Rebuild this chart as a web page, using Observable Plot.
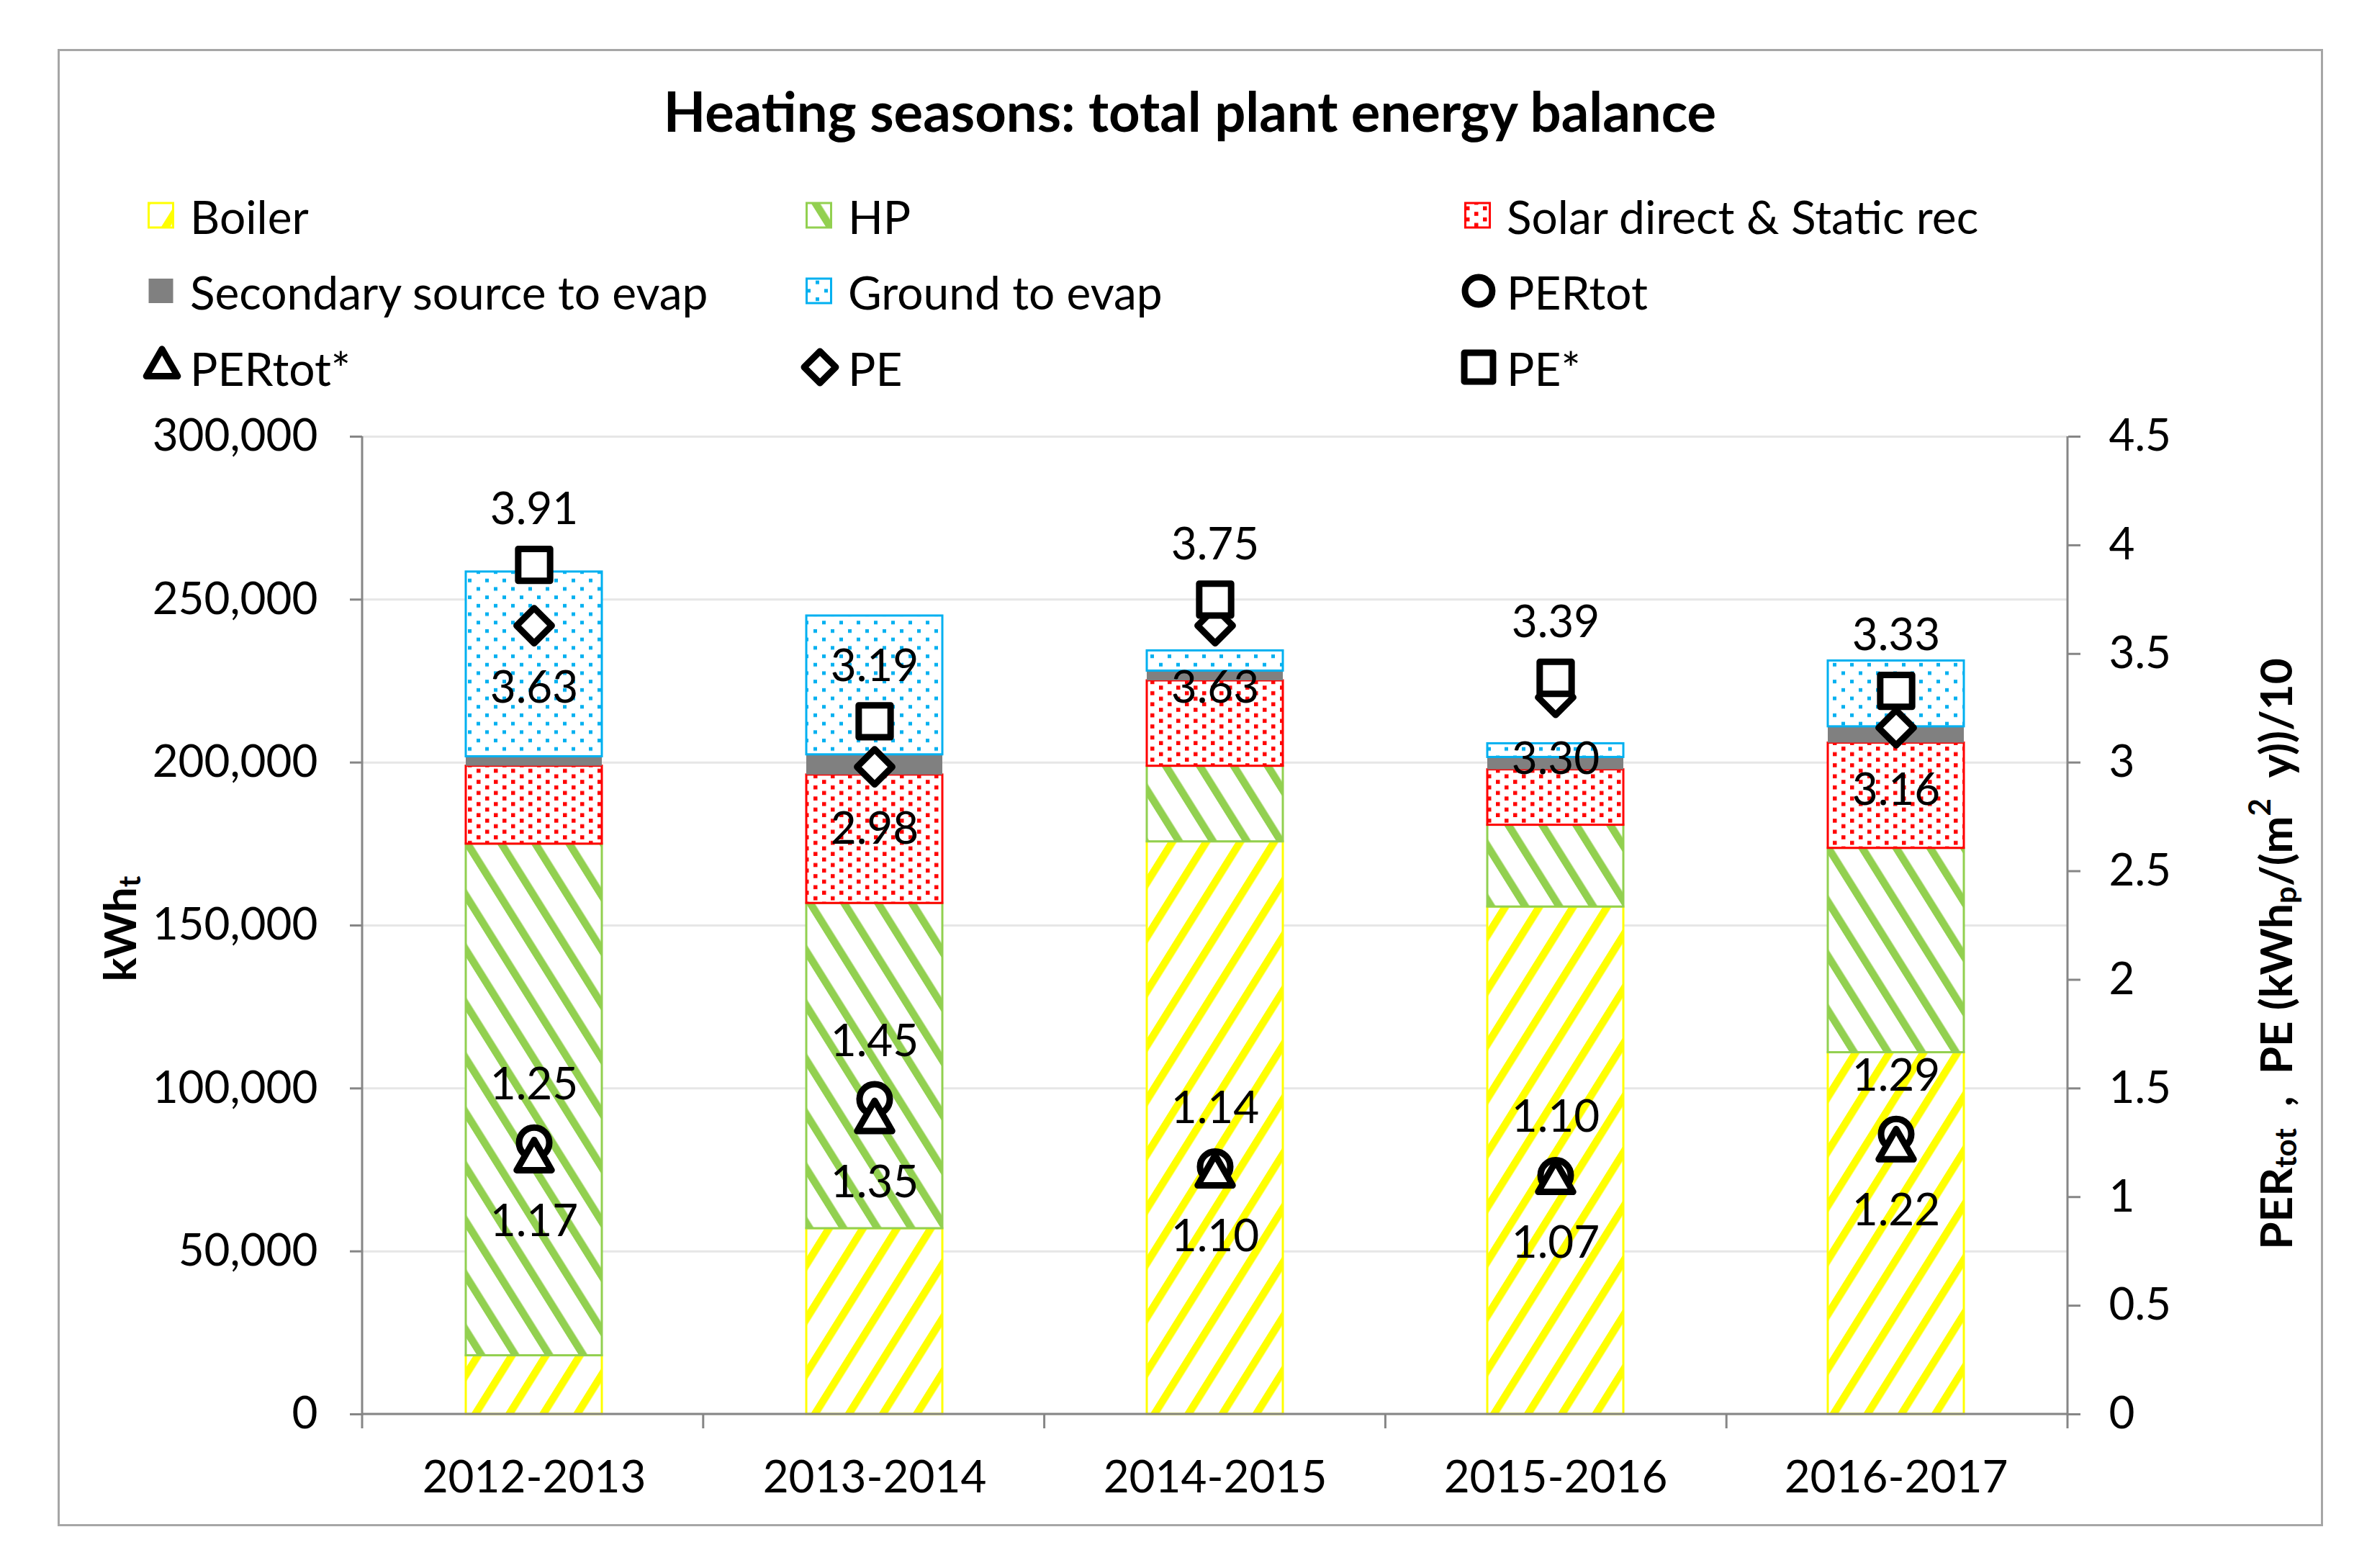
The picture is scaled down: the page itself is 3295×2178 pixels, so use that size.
<!DOCTYPE html>
<html>
<head>
<meta charset="utf-8">
<script src="https://cdn.jsdelivr.net/npm/d3@7"></script>
<script src="https://cdn.jsdelivr.net/npm/@observablehq/plot@0.6"></script>
<style>
html, body { margin: 0; padding: 0; background: #fff; }
#page { position: relative; width: 3295px; height: 2178px; font-family: Lato, "Open Sans", sans-serif; color: #000; overflow: hidden; background: #fff; }
#frame { position: absolute; left: 80px; top: 68px; width: 3141px; height: 2046px; border: 3px solid #a6a6a6; z-index: 5; pointer-events: none; }
#title { position: absolute; left: 0; width: 3306px; top: 112px; height: 84px; line-height: 84px; text-align: center; font-weight: bold; font-size: 76px; }
.leg { position: absolute; height: 80px; display: flex; align-items: center; font-size: 64px; white-space: nowrap; }
.leg svg { overflow: visible; flex: none; }
#chart { position: absolute; left: 0; top: 520px; }
</style>
</head>
<body>
<div id="page">
  <svg width="0" height="0" style="position:absolute">
    <defs>
      <pattern id="pBoiler" patternUnits="userSpaceOnUse" width="40" height="40" patternTransform="rotate(32)">
        <rect width="40" height="40" fill="#ffffff"/>
        <rect x="0" y="0" width="10.5" height="40" fill="#ffff00"/>
      </pattern>
      <pattern id="pHP" patternUnits="userSpaceOnUse" width="40" height="40" patternTransform="rotate(-32)">
        <rect width="40" height="40" fill="#ffffff"/>
        <rect x="0" y="0" width="10.5" height="40" fill="#92d050"/>
      </pattern>
      <pattern id="pSolar" patternUnits="userSpaceOnUse" width="24" height="15.4">
        <rect width="24" height="15.4" fill="#ffffff"/>
        <rect x="2" y="1.2" width="5.5" height="5.5" fill="#ff0000"/>
        <rect x="14" y="8.9" width="5.5" height="5.5" fill="#ff0000"/>
      </pattern>
      <pattern id="pGround" patternUnits="userSpaceOnUse" width="24" height="23.4">
        <rect width="24" height="23.4" fill="#ffffff"/>
        <rect x="2" y="3" width="5" height="5" fill="#00b0f0"/>
        <rect x="14" y="14.7" width="5" height="5" fill="#00b0f0"/>
      </pattern>
    </defs>
  </svg>
  <div id="frame"></div>
  <div id="title"></div>
  <div id="legend"></div>
  <div id="chart"></div>
</div>
<script>
// ---------- data ----------
const titleText = "Heating seasons: total plant energy balance";
const seasons = ["2012-2013", "2013-2014", "2014-2015", "2015-2016", "2016-2017"];
const components = ["Boiler", "HP", "Solar direct & Static rec", "Secondary source to evap", "Ground to evap"];
const boiler    = [18000, 57000, 175700, 155700, 111000];
const hp        = [157000, 99800, 23200, 25100, 62700];
const solar     = [23900, 39400, 26200, 17000, 32300];
const secondary = [2900, 6200, 3000, 3800, 5000];
const ground    = [56700, 42600, 6200, 4200, 20200];
const markerNames = ["PERtot", "PERtot*", "PE", "PE*"];
const perTot     = [1.25, 1.45, 1.14, 1.10, 1.29];
const perTotStar = [1.17, 1.35, 1.10, 1.07, 1.22];
const pe         = [3.63, 2.98, 3.63, 3.30, 3.16];
const peStar     = [3.91, 3.19, 3.75, 3.39, 3.33];
const leftTicks  = [0, 50000, 100000, 150000, 200000, 250000, 300000];
const rightTicks = [0, 0.5, 1, 1.5, 2, 2.5, 3, 3.5, 4, 4.5];
const legendOrder = ["Boiler", "HP", "Solar direct & Static rec",
                     "Secondary source to evap", "Ground to evap", "PERtot",
                     "PERtot*", "PE", "PE*"];

// ---------- styling ----------
const compFill = ["url(#pBoiler)", "url(#pHP)", "url(#pSolar)", "#808080", "url(#pGround)"];
const compStroke = ["#ffff00", "#92d050", "#ff0000", "none", "#00b0f0"];
const markerSymbol = ["circle", "triangle", "diamond2", "square"];
const markerR = [21, 18, 22, 25];
const labelDy = [-80, 86, 87, -76];
const FONT = "Lato, 'Open Sans', sans-serif";

const compValues = [boiler, hp, solar, secondary, ground];
const markerValues = [perTot, perTotStar, pe, peStar];
const yMax = 300000, rMax = 4.5, k = yMax / rMax;

const barData = [];
seasons.forEach((s, i) => components.forEach((c, j) => barData.push({
  season: s, comp: c, value: compValues[j][i], fill: compFill[j], stroke: compStroke[j]
})));
const markerData = markerNames.map((m, j) => seasons.map((s, i) => ({season: s, name: m, v: markerValues[j][i]})));

document.getElementById("title").textContent = titleText;

// ---------- layout ----------
const W = 3295, H = 1600, top0 = 520;
const mL = 503, mR = W - 2872, mT = 606 - top0, mB = top0 + H - 1964;

const marks = [
  Plot.gridY(leftTicks, {stroke: "#e6e6e6", strokeOpacity: 1, strokeWidth: 3}),
  Plot.barY(barData, {x: "season", y: "value", fill: "fill", stroke: "stroke", strokeWidth: 3}),
  Plot.axisY({anchor: "left", ticks: leftTicks, tickFormat: d3.format(","), tickSize: 17, tickPadding: 45,
              stroke: "#868686", strokeWidth: 3, fill: "#000", fontSize: 62, label: null}),
  Plot.axisY({anchor: "right", ticks: rightTicks.map(v => v * k), tickFormat: v => String(+(v / k).toFixed(2)),
              tickSize: 17, tickPadding: 40, stroke: "#868686", strokeWidth: 3, fill: "#000", fontSize: 62, label: null}),
  Plot.axisX({anchor: "bottom", tickSize: 0, tickPadding: 64, fill: "#000", fontSize: 62, label: null})
];
markerData.forEach((arr, j) => {
  marks.push(Plot.dot(arr, {x: "season", y: d => d.v * k, symbol: () => markerSymbol[j], r: markerR[j],
    stroke: "#000", strokeWidth: 9, fill: "#fff", strokeLinejoin: "round"}));
});
markerData.forEach((arr, j) => {
  marks.push(Plot.text(arr, {x: "season", y: d => d.v * k, text: d => d.v.toFixed(2), dy: labelDy[j],
    fontSize: 62, fill: "#000"}));
});

const chart = Plot.plot({
  width: W, height: H,
  marginLeft: mL, marginRight: mR, marginTop: mT, marginBottom: mB,
  style: {fontFamily: FONT, fontSize: "62px", background: "none", color: "#000"},
  x: {domain: seasons, paddingInner: 0.6, paddingOuter: 0.3},
  y: {domain: [0, yMax]},
  color: {type: "identity"},
  symbol: {type: "identity"},
  marks
});
document.getElementById("chart").appendChild(chart);

// ---------- axis lines, category ticks, axis titles ----------
const svg = d3.select(chart);
const xs = chart.scale("x"), ys = chart.scale("y");
const [x0, x1] = xs.range, [yb, yt] = ys.range;
const g = svg.append("g").attr("stroke", "#868686").attr("stroke-width", 3);
g.append("line").attr("x1", x0).attr("x2", x0).attr("y1", yb + 1.5).attr("y2", yt);
g.append("line").attr("x1", x1).attr("x2", x1).attr("y1", yb + 1.5).attr("y2", yt);
g.append("line").attr("x1", x0).attr("x2", x1).attr("y1", yb).attr("y2", yb);
const n = seasons.length;
for (let i = 0; i <= n; i++) {
  const xx = x0 + i * (x1 - x0) / n;
  g.append("line").attr("x1", xx).attr("x2", xx).attr("y1", yb).attr("y2", yb + 20);
}
// left title
const lt = svg.append("text").attr("transform", `translate(165,${1290 - top0}) rotate(-90)`)
  .attr("text-anchor", "middle").attr("dominant-baseline", "central")
  .attr("font-weight", "bold").attr("font-size", 62).attr("font-family", FONT).attr("fill", "#000");
lt.append("tspan").text("kWh");
lt.append("tspan").attr("font-size", 42).attr("dy", 14).text("t");
// right title
const rt = svg.append("text").attr("transform", `translate(3160,${1325 - top0}) rotate(-90)`)
  .attr("text-anchor", "middle").attr("dominant-baseline", "central")
  .attr("font-weight", "bold").attr("font-size", 62).attr("font-family", FONT).attr("fill", "#000");
rt.append("tspan").text("PER");
rt.append("tspan").attr("font-size", 42).attr("dy", 14).text("tot");
rt.append("tspan").attr("dy", -14).text("  ,  PE (kWh");
rt.append("tspan").attr("font-size", 42).attr("dy", 14).text("p");
rt.append("tspan").attr("dy", -14).text("/(m");
rt.append("tspan").attr("font-size", 42).attr("dy", -22).text("2");
rt.append("tspan").attr("dy", 22).text("  y))/10");

// ---------- legend ----------
const colX = [205, 1119, 2034];
const rowY = [300, 405, 511];
const legend = d3.select("#legend");
legendOrder.forEach((name, idx) => {
  const col = idx % 3, row = Math.floor(idx / 3);
  const item = legend.append("div").attr("class", "leg")
    .style("left", colX[col] + "px").style("top", (rowY[row] - 40) + "px");
  const s = item.append("svg").attr("width", 59).attr("height", 60);
  const ci = components.indexOf(name);
  if (ci >= 0) {
    s.append("rect").attr("x", 1.5).attr("y", 12).attr("width", 34).attr("height", 34)
      .attr("fill", compFill[ci]).attr("stroke", compStroke[ci]).attr("stroke-width", 3);
  } else {
    const mi = markerNames.indexOf(name);
    const type = {circle: d3.symbolCircle, triangle: d3.symbolTriangle, diamond2: d3.symbolDiamond2, square: d3.symbolSquare}[markerSymbol[mi]];
    const rr = markerR[mi] * 0.9;
    s.append("path").attr("transform", "translate(20,29)")
      .attr("d", d3.symbol(type, rr * rr * Math.PI)())
      .attr("fill", "#fff").attr("stroke", "#000").attr("stroke-width", 9).attr("stroke-linejoin", "round");
  }
  item.append("span").text(name);
});
</script>
</body>
</html>
